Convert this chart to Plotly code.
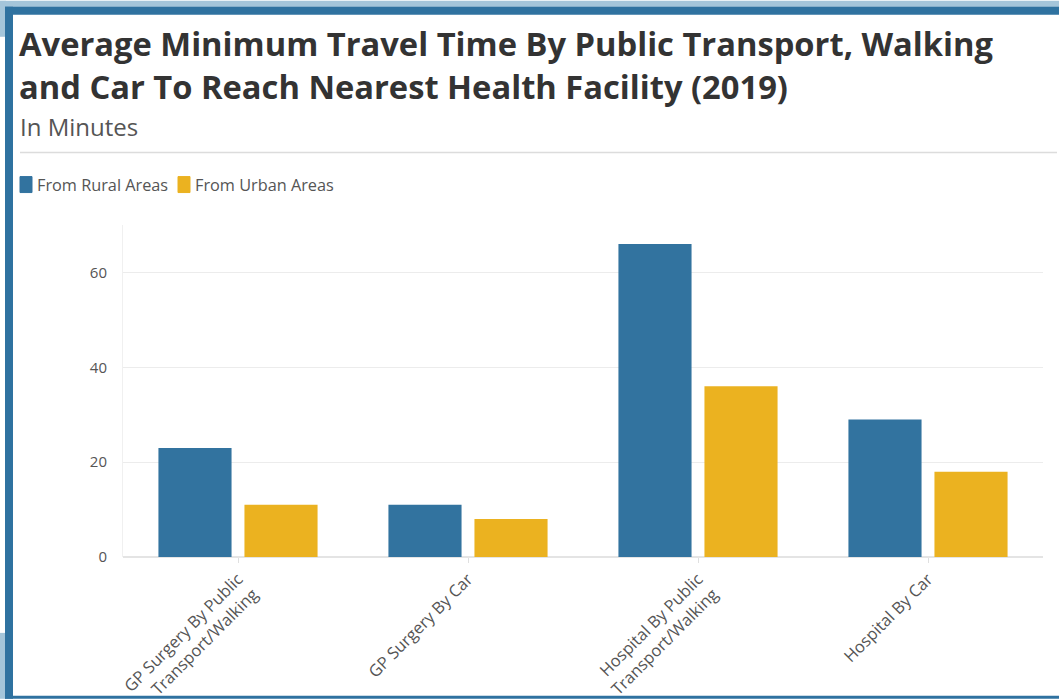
import plotly.graph_objects as go

categories = ["GP Surgery By Public<br>Transport/Walking", "GP Surgery By Car",
              "Hospital By Public<br>Transport/Walking", "Hospital By Car"]
rural = [23, 11, 66, 29]
urban = [11, 8, 36, 18]
series_names = ["From Rural Areas", "From Urban Areas"]
y_ticks = [0, 20, 40, 60]

W, H = 1059, 699
L, R, T, B = 123, 16, 224.5, 142
PW, PH = W - L - R, H - T - B

def px(x):
    return (x - L) / PW

def py(y):
    return (H - B - y) / PH

BLUE = "#32739f"
YELLOW = "#ebb220"
FONT = "Open Sans"

fig = go.Figure()
fig.add_trace(go.Bar(x=categories, y=rural, name=series_names[0], marker_color=BLUE,
                     marker_line_width=0, showlegend=False))
fig.add_trace(go.Bar(x=categories, y=urban, name=series_names[1], marker_color=YELLOW,
                     marker_line_width=0, showlegend=False))

shapes = []
light = "#a4c5da"
dark = "#2f72a0"
shapes.append(dict(type="rect", xref="paper", yref="paper", x0=px(0), x1=px(W), y0=py(0), y1=py(7),
                   fillcolor=light, line_width=0, layer="above"))
shapes.append(dict(type="rect", xref="paper", yref="paper", x0=px(0), x1=px(6), y0=py(0), y1=py(36),
                   fillcolor=light, line_width=0, layer="above"))
shapes.append(dict(type="rect", xref="paper", yref="paper", x0=px(0), x1=px(6), y0=py(633), y1=py(H),
                   fillcolor=light, line_width=0, layer="above"))
shapes.append(dict(type="rect", xref="paper", yref="paper", x0=px(5), x1=px(W), y0=py(6), y1=py(14),
                   fillcolor=dark, line_width=0, layer="above"))
shapes.append(dict(type="rect", xref="paper", yref="paper", x0=px(5), x1=px(13), y0=py(6), y1=py(H),
                   fillcolor=dark, line_width=0, layer="above"))
shapes.append(dict(type="rect", xref="paper", yref="paper", x0=px(5), x1=px(W), y0=py(696), y1=py(H),
                   fillcolor=dark, line_width=0, layer="above"))
shapes.append(dict(type="line", xref="paper", yref="paper", x0=px(20), x1=px(1057), y0=py(152), y1=py(152),
                   line=dict(color="#dcdcdc", width=1.5), layer="above"))

annotations = [
    dict(text="<b>Average Minimum Travel Time By Public Transport, Walking<br>and Car To Reach Nearest Health Facility (2019)</b>",
         xref="paper", yref="paper", x=px(17), y=py(18), xanchor="left", yanchor="top", align="left",
         showarrow=False, font=dict(family=FONT, size=32.7, color="#333333")),
    dict(text="In Minutes", xref="paper", yref="paper", x=px(18), y=py(107), xanchor="left", yanchor="top",
         align="left", showarrow=False, font=dict(family=FONT, size=24, color="#555555")),
]

legend_items = [(series_names[0], BLUE, 20), (series_names[1], YELLOW, 178)]
for name, col, x0 in legend_items:
    shapes.append(dict(type="rect", xref="paper", yref="paper", x0=px(x0), x1=px(x0 + 12),
                       y0=py(176), y1=py(192), fillcolor=col, line=dict(color=col, width=1),
                       layer="above"))
    annotations.append(dict(text=name, xref="paper", yref="paper", x=px(x0 + 15), y=py(184),
                            xanchor="left", yanchor="middle", showarrow=False,
                            font=dict(family=FONT, size=16.3, color="#555555")))

fig.update_layout(
    width=W, height=H,
    margin=dict(l=L, r=R, t=T, b=B, pad=0, autoexpand=False),
    paper_bgcolor="white", plot_bgcolor="white",
    barmode="group", bargap=0.252, bargroupgap=0.15,
    font=dict(family=FONT, color="#555555"),
    showlegend=False,
    shapes=shapes,
    annotations=annotations,
    xaxis=dict(tickangle=-45, tickfont=dict(family=FONT, size=16.5, color="#555555"),
               showgrid=False, showline=False, ticks="outside", ticklen=5, tickcolor="#e0e0e0",
               zeroline=False, automargin=False),
    yaxis=dict(range=[0, 70], tickvals=y_ticks, tickfont=dict(family=FONT, size=15, color="#555555"),
               showgrid=True, gridcolor="#ececec", zeroline=True, zerolinecolor="#e4e4e4",
               showline=True, linecolor="#f0f0f0", ticks="", ticklabelstandoff=12, automargin=False),
)

fig.write_html("out.html")
